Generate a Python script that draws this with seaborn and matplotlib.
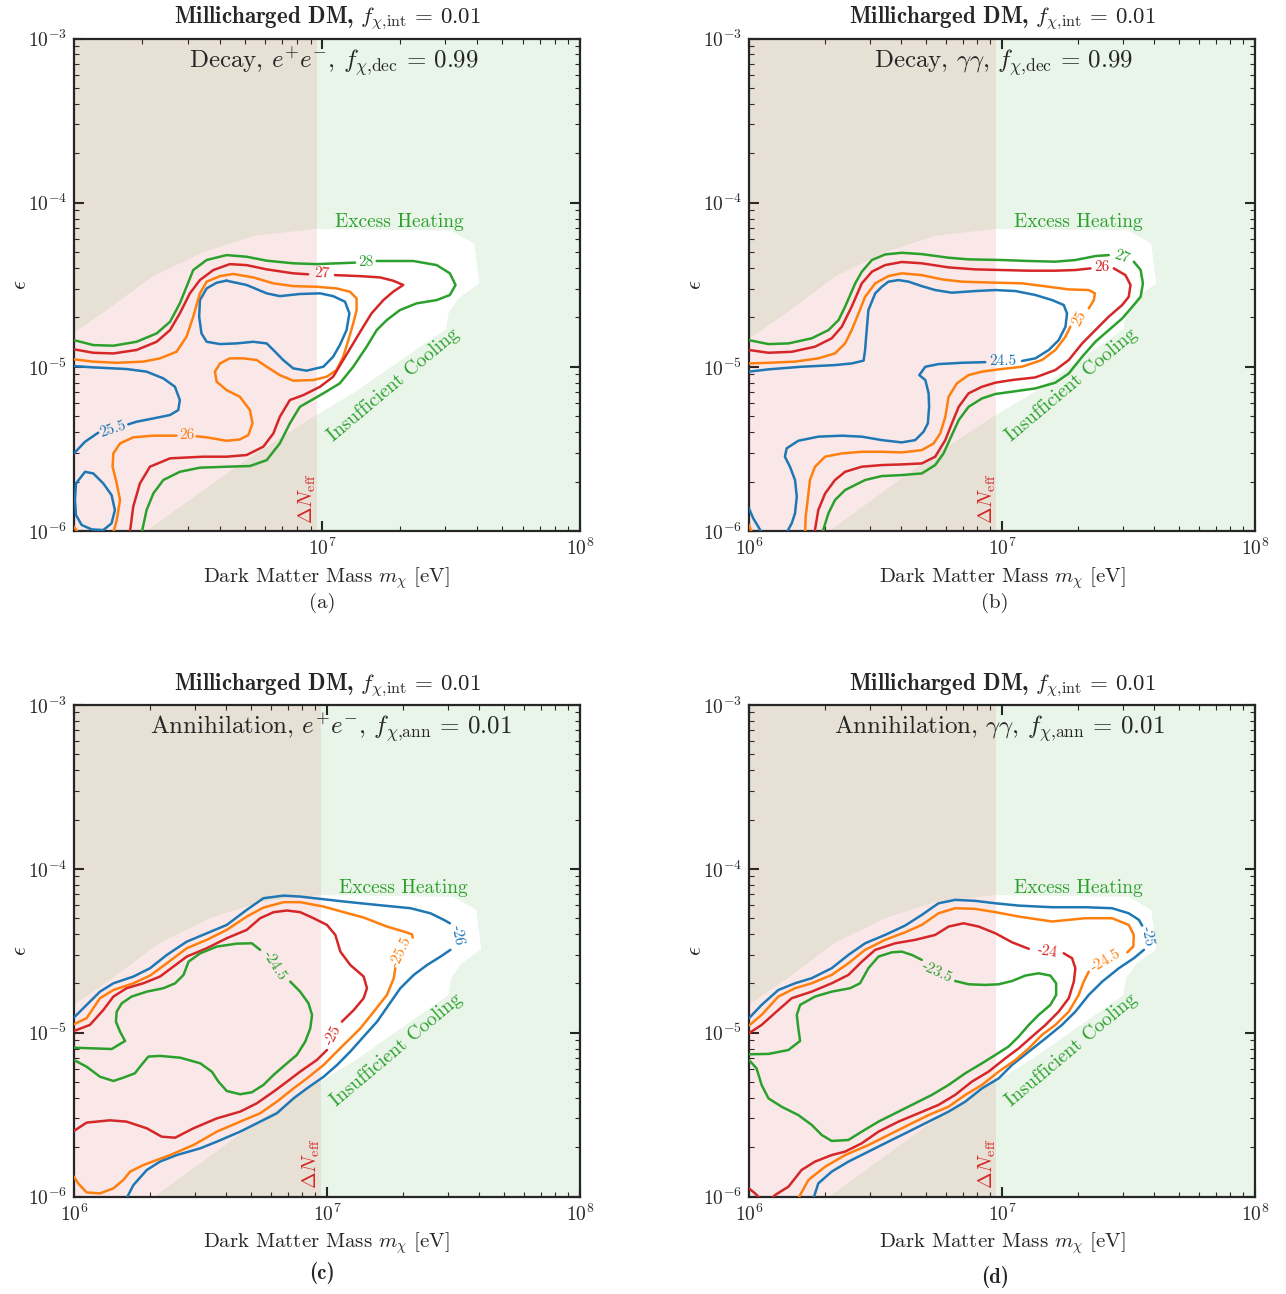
import numpy as np
import pandas as pd
import seaborn as sns
import matplotlib.pyplot as plt

# all curve points are (log10 m_chi [eV], log10 epsilon)
# allowed region (white / pink), same for all four panels
region = [(5.99, -4.84), (6.14, -4.68), (6.34, -4.45), (6.54, -4.30), (6.74, -4.20),
          (6.97, -4.16), (7.50, -4.17), (7.59, -4.25), (7.61, -4.49), (7.53, -4.58),
          (7.49, -4.67), (7.48, -4.77), (7.12, -5.16), (6.97, -5.30), (6.70, -5.57),
          (6.30, -6.02), (5.99, -6.02)]
neff_mass = 9.5e6

# (a) decay e+e-
a_levels = ['25.5', '26', '27', '28']
a_255 = [
    [(6.036, -4.995), (6.111, -5.003), (6.240, -5.013), (6.318, -5.029), (6.383, -5.070), (6.428, -5.121),
     (6.447, -5.202), (6.441, -5.263), (6.409, -5.293), (6.344, -5.314), (6.279, -5.334), (6.247, -5.350)],
    [(6.130, -5.401), (6.079, -5.456), (6.036, -5.527)],
    [(6.628, -4.475), (6.706, -4.501), (6.784, -4.552), (6.835, -4.569), (6.913, -4.556), (6.991, -4.552),
     (7.042, -4.569), (7.088, -4.603), (7.105, -4.674), (7.094, -4.776), (7.068, -4.867), (7.042, -4.938),
     (7.004, -4.999), (6.939, -5.023), (6.887, -5.009), (6.848, -4.958), (6.810, -4.897), (6.784, -4.857),
     (6.732, -4.847), (6.667, -4.857), (6.603, -4.861), (6.551, -4.847), (6.531, -4.796), (6.522, -4.694),
     (6.525, -4.593), (6.551, -4.522), (6.590, -4.487), (6.628, -4.475)],
    [(6.044, -5.710), (6.079, -5.639), (6.111, -5.649), (6.150, -5.710), (6.182, -5.781), (6.195, -5.872),
     (6.182, -5.953), (6.150, -5.994), (6.105, -5.990), (6.066, -5.963), (6.044, -5.903), (6.040, -5.811),
     (6.044, -5.710)],
]
a_26 = [
    [(6.036, -4.954), (6.111, -4.968), (6.202, -4.975), (6.305, -4.968), (6.370, -4.948), (6.434, -4.908),
     (6.473, -4.816), (6.499, -4.694), (6.525, -4.552), (6.551, -4.481), (6.603, -4.447), (6.654, -4.434),
     (6.732, -4.455), (6.810, -4.491), (6.887, -4.508), (6.978, -4.512), (7.055, -4.522), (7.107, -4.542),
     (7.133, -4.583), (7.133, -4.654), (7.120, -4.735), (7.101, -4.837), (7.081, -4.938), (7.055, -5.019),
     (7.017, -5.060), (6.965, -5.080), (6.887, -5.084), (6.835, -5.050), (6.784, -4.999), (6.745, -4.958),
     (6.693, -4.948), (6.641, -4.948), (6.603, -4.979), (6.583, -5.029), (6.590, -5.090), (6.628, -5.141),
     (6.680, -5.182), (6.719, -5.263), (6.729, -5.344), (6.713, -5.415), (6.680, -5.442), (6.628, -5.450),
     (6.551, -5.429), (6.512, -5.423)],
    [(6.434, -5.419), (6.344, -5.419), (6.266, -5.429), (6.215, -5.466), (6.189, -5.527), (6.186, -5.608),
     (6.202, -5.710), (6.215, -5.811), (6.202, -5.933), (6.189, -6.01)],
    [(6.036, -5.974), (6.053, -6.01)],
]
a_27 = [
    [(6.036, -4.893), (6.111, -4.914), (6.189, -4.918), (6.279, -4.897), (6.357, -4.847), (6.409, -4.776),
     (6.447, -4.674), (6.486, -4.552), (6.525, -4.471), (6.577, -4.410), (6.641, -4.374), (6.706, -4.380),
     (6.784, -4.406), (6.887, -4.430), (6.945, -4.436)],
    [(7.049, -4.441), (7.146, -4.447), (7.224, -4.455), (7.275, -4.475), (7.314, -4.501), (7.275, -4.542),
     (7.237, -4.593), (7.191, -4.674), (7.159, -4.755), (7.120, -4.857), (7.081, -4.958), (7.042, -5.060),
     (6.991, -5.121), (6.926, -5.172), (6.874, -5.202), (6.835, -5.304), (6.810, -5.405), (6.771, -5.486),
     (6.706, -5.537), (6.628, -5.547), (6.538, -5.547), (6.409, -5.557), (6.331, -5.608), (6.292, -5.710),
     (6.266, -5.852), (6.253, -6.01)],
]
a_28 = [
    [(6.036, -4.837), (6.111, -4.867), (6.189, -4.871), (6.279, -4.847), (6.357, -4.796), (6.409, -4.725),
     (6.447, -4.613), (6.473, -4.512), (6.499, -4.410), (6.551, -4.349), (6.628, -4.319), (6.706, -4.329),
     (6.784, -4.353), (6.887, -4.369), (6.978, -4.374), (7.127, -4.365)],
    [(7.211, -4.355), (7.353, -4.355), (7.444, -4.380), (7.495, -4.430), (7.517, -4.501), (7.495, -4.562),
     (7.444, -4.593), (7.366, -4.613), (7.301, -4.654), (7.250, -4.715), (7.211, -4.776), (7.172, -4.877),
     (7.120, -4.999), (7.068, -5.100), (7.004, -5.161), (6.913, -5.243), (6.874, -5.344), (6.835, -5.466),
     (6.784, -5.568), (6.719, -5.604), (6.628, -5.608), (6.525, -5.614), (6.447, -5.639), (6.383, -5.689),
     (6.344, -5.771), (6.318, -5.872), (6.299, -6.01)],
]
a_labels = [('25.5', 6.189, -5.381, 18), ('26', 6.473, -5.417, 0),
            ('27', 6.997, -4.432, -2), ('28', 7.170, -4.359, 0)]

# (b) decay gamma gamma
b_levels = ['24.5', '25', '26', '27']
b_245 = [
    [(6.000, -5.029), (6.077, -5.015), (6.208, -4.999), (6.340, -4.989), (6.406, -4.979), (6.453, -4.962),
     (6.459, -4.897), (6.462, -4.837), (6.472, -4.654), (6.499, -4.552), (6.525, -4.512), (6.551, -4.481),
     (6.591, -4.471), (6.631, -4.481), (6.683, -4.508), (6.736, -4.532), (6.802, -4.548), (6.894, -4.538),
     (6.974, -4.532), (7.053, -4.538), (7.132, -4.562), (7.198, -4.593), (7.244, -4.623), (7.257, -4.674),
     (7.251, -4.755), (7.224, -4.837), (7.185, -4.897), (7.132, -4.948), (7.079, -4.964)],
    [(6.934, -4.971), (6.842, -4.975), (6.749, -4.983), (6.697, -4.999), (6.683, -5.029), (6.673, -5.050),
     (6.697, -5.080), (6.710, -5.161), (6.712, -5.243), (6.707, -5.344), (6.690, -5.395), (6.657, -5.446),
     (6.604, -5.460), (6.525, -5.446), (6.446, -5.425), (6.367, -5.419), (6.274, -5.425), (6.195, -5.450),
     (6.149, -5.496), (6.142, -5.547), (6.162, -5.608), (6.182, -5.689), (6.189, -5.791), (6.182, -5.892),
     (6.169, -5.953), (6.149, -6.01)],
    [(6.000, -5.862), (6.017, -5.923), (6.037, -5.974), (6.050, -6.01)],
]
b_25 = [
    [(6.000, -4.979), (6.077, -4.975), (6.182, -4.968), (6.274, -4.948), (6.340, -4.918), (6.380, -4.857),
     (6.406, -4.776), (6.433, -4.674), (6.459, -4.573), (6.499, -4.491), (6.551, -4.447), (6.604, -4.430),
     (6.683, -4.441), (6.763, -4.467), (6.842, -4.481), (6.974, -4.487), (7.079, -4.491), (7.185, -4.512),
     (7.264, -4.528), (7.343, -4.532), (7.367, -4.552), (7.363, -4.593), (7.343, -4.644)],
    [(7.270, -4.755), (7.251, -4.816), (7.211, -4.897), (7.158, -4.958), (7.079, -4.999), (6.987, -5.015),
     (6.921, -5.029), (6.868, -5.050), (6.822, -5.100), (6.789, -5.182), (6.776, -5.304), (6.756, -5.405),
     (6.730, -5.466), (6.683, -5.507), (6.604, -5.521), (6.525, -5.517), (6.446, -5.517), (6.367, -5.527),
     (6.301, -5.547), (6.261, -5.608), (6.241, -5.689), (6.232, -5.811), (6.224, -5.913), (6.222, -6.01)],
    [(6.000, -5.963), (6.011, -6.01)],
]
b_26 = [
    [(6.000, -4.897), (6.077, -4.914), (6.169, -4.908), (6.261, -4.877), (6.327, -4.826), (6.367, -4.755),
     (6.406, -4.633), (6.446, -4.491), (6.486, -4.420), (6.538, -4.380), (6.604, -4.361), (6.683, -4.369),
     (6.789, -4.394), (6.894, -4.406), (7.000, -4.410), (7.106, -4.414), (7.211, -4.414), (7.290, -4.410),
     (7.350, -4.400)],
    [(7.442, -4.400), (7.488, -4.441), (7.508, -4.501), (7.501, -4.573), (7.475, -4.623), (7.422, -4.694),
     (7.369, -4.776), (7.317, -4.857), (7.264, -4.958), (7.211, -5.019), (7.132, -5.064), (7.040, -5.080),
     (6.974, -5.096), (6.921, -5.121), (6.868, -5.161), (6.829, -5.243), (6.802, -5.344), (6.776, -5.446),
     (6.736, -5.547), (6.683, -5.588), (6.604, -5.594), (6.525, -5.598), (6.446, -5.608), (6.380, -5.639),
     (6.340, -5.689), (6.301, -5.771), (6.274, -5.872), (6.259, -6.01)],
]
b_27 = [
    [(6.000, -4.837), (6.077, -4.861), (6.156, -4.857), (6.248, -4.826), (6.314, -4.776), (6.354, -4.715),
     (6.380, -4.633), (6.420, -4.491), (6.446, -4.420), (6.486, -4.349), (6.538, -4.315), (6.604, -4.305),
     (6.683, -4.313), (6.789, -4.335), (6.868, -4.345), (7.000, -4.349), (7.106, -4.355), (7.211, -4.359),
     (7.290, -4.349), (7.369, -4.325), (7.422, -4.319)],
    [(7.521, -4.359), (7.548, -4.410), (7.557, -4.491), (7.548, -4.573), (7.521, -4.623), (7.475, -4.705),
     (7.422, -4.776), (7.369, -4.847), (7.317, -4.938), (7.264, -5.040), (7.211, -5.096), (7.132, -5.131),
     (7.040, -5.151), (6.974, -5.165), (6.921, -5.192), (6.868, -5.243), (6.829, -5.324), (6.802, -5.415),
     (6.769, -5.527), (6.736, -5.598), (6.683, -5.649), (6.604, -5.659), (6.525, -5.665), (6.459, -5.689),
     (6.380, -5.750), (6.340, -5.811), (6.314, -5.892), (6.290, -6.01)],
]
b_labels = [('24.5', 7.003, -4.968, 0), ('25', 7.306, -4.703, 62),
            ('26', 7.396, -4.392, 0), ('27', 7.475, -4.329, -20)]

# (c) annihilation e+e-
c_levels = ['-26', '-25.5', '-25', '-24.5']
c_m26 = [
    [(6.000, -4.907), (6.050, -4.830), (6.103, -4.749), (6.156, -4.698), (6.235, -4.657), (6.301, -4.606),
     (6.367, -4.525), (6.446, -4.444), (6.525, -4.393), (6.604, -4.342), (6.683, -4.250), (6.749, -4.179),
     (6.829, -4.163), (6.894, -4.169), (6.974, -4.183), (7.066, -4.199), (7.198, -4.220), (7.330, -4.240),
     (7.409, -4.271), (7.462, -4.311), (7.486, -4.332)],
    [(7.488, -4.494), (7.449, -4.535), (7.396, -4.586), (7.343, -4.647), (7.290, -4.728), (7.244, -4.830),
     (7.198, -4.932), (7.145, -5.023), (7.092, -5.115), (7.040, -5.196), (6.987, -5.268), (6.921, -5.339),
     (6.868, -5.400), (6.802, -5.491), (6.736, -5.542), (6.657, -5.603), (6.565, -5.664), (6.499, -5.705),
     (6.406, -5.746), (6.340, -5.786), (6.288, -5.837), (6.235, -5.929), (6.208, -6.01)],
]
c_m255 = [
    [(6.000, -4.948), (6.050, -4.911), (6.103, -4.789), (6.156, -4.739), (6.235, -4.698), (6.301, -4.651),
     (6.367, -4.576), (6.446, -4.484), (6.525, -4.433), (6.604, -4.372), (6.683, -4.291), (6.749, -4.236),
     (6.829, -4.203), (6.894, -4.203), (6.987, -4.230), (7.066, -4.264), (7.145, -4.297), (7.237, -4.352),
     (7.303, -4.382), (7.336, -4.399), (7.339, -4.419)],
    [(7.270, -4.606), (7.264, -4.667), (7.237, -4.769), (7.185, -4.871), (7.132, -4.973), (7.079, -5.054),
     (7.026, -5.135), (6.987, -5.196), (6.921, -5.278), (6.868, -5.339), (6.802, -5.420), (6.736, -5.491),
     (6.657, -5.542), (6.565, -5.603), (6.472, -5.685), (6.380, -5.746), (6.274, -5.807), (6.222, -5.847),
     (6.195, -5.898), (6.156, -5.949), (6.103, -5.980), (6.050, -5.974), (6.017, -5.919), (6.000, -5.878)],
]
c_m25 = [
    [(6.000, -4.989), (6.063, -4.952), (6.116, -4.861), (6.156, -4.779), (6.208, -4.728), (6.274, -4.698),
     (6.340, -4.657), (6.393, -4.596), (6.446, -4.535), (6.525, -4.484), (6.604, -4.423), (6.683, -4.372),
     (6.736, -4.301), (6.789, -4.264), (6.842, -4.254), (6.894, -4.264), (6.947, -4.301), (7.000, -4.342),
     (7.033, -4.403), (7.053, -4.505), (7.092, -4.586), (7.145, -4.657), (7.158, -4.728), (7.145, -4.789),
     (7.106, -4.861), (7.059, -4.932)],
    [(7.000, -5.105), (6.960, -5.166), (6.894, -5.237), (6.842, -5.298), (6.789, -5.359), (6.723, -5.430),
     (6.657, -5.481), (6.565, -5.522), (6.472, -5.583), (6.400, -5.640), (6.347, -5.634), (6.288, -5.583),
     (6.208, -5.542), (6.142, -5.534), (6.050, -5.548), (6.000, -5.599)],
]
c_m245 = [
    [(6.000, -5.091), (6.149, -5.099), (6.202, -5.050), (6.182, -4.993), (6.166, -4.932), (6.169, -4.871),
     (6.189, -4.820), (6.228, -4.779), (6.288, -4.749), (6.354, -4.728), (6.400, -4.698), (6.433, -4.647),
     (6.453, -4.566), (6.499, -4.515), (6.565, -4.474), (6.644, -4.456), (6.703, -4.454), (6.736, -4.494)],
    [(6.855, -4.688), (6.894, -4.749), (6.927, -4.820), (6.941, -4.891), (6.934, -4.973), (6.914, -5.054),
     (6.881, -5.135), (6.842, -5.186), (6.789, -5.257), (6.749, -5.318), (6.703, -5.363), (6.657, -5.375),
     (6.604, -5.355), (6.571, -5.298), (6.545, -5.237), (6.499, -5.186), (6.420, -5.152), (6.340, -5.141),
     (6.294, -5.145), (6.261, -5.207), (6.241, -5.247), (6.195, -5.274), (6.156, -5.294), (6.103, -5.268),
     (6.050, -5.207), (6.000, -5.166)],
]
c_labels = [('-26', 7.517, -4.403, -80), ('-25.5', 7.293, -4.509, 65),
            ('-25', 7.026, -5.015, 62), ('-24.5', 6.792, -4.593, -58)]

# (d) annihilation gamma gamma
d_levels = ['-25', '-24.5', '-24', '-23.5']
d_m25 = [
    [(6.000, -4.911), (6.050, -4.830), (6.116, -4.739), (6.182, -4.698), (6.248, -4.667), (6.327, -4.606),
     (6.393, -4.525), (6.459, -4.454), (6.538, -4.403), (6.617, -4.346), (6.683, -4.281), (6.749, -4.210),
     (6.815, -4.189), (6.894, -4.195), (6.974, -4.210), (7.066, -4.224), (7.198, -4.234), (7.330, -4.234),
     (7.435, -4.240), (7.501, -4.271), (7.541, -4.311), (7.554, -4.346)],
    [(7.561, -4.494), (7.521, -4.545), (7.462, -4.606), (7.396, -4.688), (7.343, -4.769), (7.290, -4.871),
     (7.237, -4.952), (7.172, -5.034), (7.106, -5.115), (7.040, -5.196), (6.987, -5.278), (6.921, -5.339),
     (6.855, -5.420), (6.789, -5.481), (6.710, -5.542), (6.631, -5.603), (6.551, -5.664), (6.472, -5.725),
     (6.393, -5.786), (6.327, -5.847), (6.274, -5.919), (6.255, -6.01)],
]
d_m245 = [
    [(6.000, -4.956), (6.050, -4.891), (6.116, -4.779), (6.182, -4.728), (6.248, -4.698), (6.327, -4.647),
     (6.393, -4.576), (6.459, -4.494), (6.538, -4.433), (6.617, -4.387), (6.683, -4.342), (6.749, -4.271),
     (6.815, -4.240), (6.894, -4.244), (6.974, -4.264), (7.066, -4.291), (7.198, -4.321), (7.330, -4.301),
     (7.435, -4.301), (7.501, -4.342), (7.521, -4.403), (7.519, -4.474), (7.495, -4.509)],
    [(7.343, -4.627), (7.323, -4.688), (7.303, -4.769), (7.264, -4.871), (7.211, -4.952), (7.158, -5.013),
     (7.106, -5.095), (7.053, -5.166), (6.987, -5.237), (6.921, -5.318), (6.855, -5.379), (6.789, -5.451),
     (6.710, -5.502), (6.631, -5.562), (6.551, -5.624), (6.472, -5.685), (6.380, -5.746), (6.301, -5.817),
     (6.235, -5.898), (6.195, -6.01)],
]
d_m24 = [
    [(6.000, -5.003), (6.050, -4.952), (6.116, -4.861), (6.169, -4.789), (6.248, -4.749), (6.327, -4.698),
     (6.393, -4.647), (6.446, -4.566), (6.499, -4.494), (6.578, -4.454), (6.657, -4.433), (6.736, -4.403),
     (6.789, -4.352), (6.848, -4.332), (6.908, -4.352), (6.974, -4.393), (7.040, -4.448), (7.106, -4.488)],
    [(7.244, -4.515), (7.277, -4.545), (7.290, -4.606), (7.284, -4.688), (7.264, -4.789), (7.224, -4.871),
     (7.172, -4.952), (7.119, -5.023), (7.066, -5.095), (7.013, -5.156), (6.947, -5.237), (6.881, -5.298),
     (6.815, -5.379), (6.749, -5.440), (6.670, -5.491), (6.591, -5.542), (6.512, -5.603), (6.446, -5.674),
     (6.380, -5.725), (6.327, -5.746), (6.261, -5.786), (6.208, -5.837), (6.156, -5.939), (6.103, -5.990),
     (6.090, -6.01)],
    [(6.000, -5.949), (6.024, -5.980), (6.044, -6.01)],
]
d_m235 = [
    [(6.000, -5.131), (6.077, -5.129), (6.156, -5.105), (6.202, -5.050), (6.195, -4.973), (6.189, -4.891),
     (6.202, -4.830), (6.261, -4.779), (6.327, -4.749), (6.400, -4.728), (6.439, -4.698), (6.472, -4.606),
     (6.512, -4.535), (6.565, -4.509), (6.604, -4.505), (6.644, -4.525), (6.683, -4.555)],
    [(6.815, -4.684), (6.868, -4.704), (6.934, -4.708), (6.987, -4.704), (7.040, -4.684), (7.092, -4.651),
     (7.145, -4.637), (7.191, -4.651), (7.214, -4.698), (7.214, -4.769), (7.191, -4.830), (7.145, -4.891),
     (7.106, -4.952), (7.066, -5.023), (7.026, -5.084), (6.974, -5.135), (6.921, -5.186), (6.855, -5.247),
     (6.789, -5.318), (6.723, -5.379), (6.657, -5.430), (6.591, -5.481), (6.512, -5.542), (6.446, -5.603),
     (6.393, -5.654), (6.327, -5.660), (6.288, -5.624), (6.248, -5.562), (6.195, -5.502), (6.129, -5.451),
     (6.077, -5.400), (6.050, -5.318), (6.030, -5.217), (6.000, -5.166)],
]
d_labels = [('-25', 7.574, -4.413, -80), ('-24.5', 7.412, -4.562, 30),
            ('-24', 7.178, -4.507, -8), ('-23.5', 6.745, -4.629, -25)]

headers = [r'Decay, $e^{+}e^{-}$, $f_{\chi{,}\mathrm{dec}}\,=\,0.99$',
           r'Decay, $\gamma\gamma$, $f_{\chi{,}\mathrm{dec}}\,=\,0.99$',
           r'Annihilation, $e^{+}e^{-}$, $f_{\chi{,}\mathrm{ann}}\,=\,0.01$',
           r'Annihilation, $\gamma\gamma$, $f_{\chi{,}\mathrm{ann}}\,=\,0.01$']
title = r'Millicharged DM, $f_{\chi{,}\mathrm{int}}\,=\,0.01$'
tags = ['(a)', '(b)', '(c)', '(d)']
x_lower = [10 ** 6.036, 1e6, 1e6, 1e6]

sns.set_style('ticks')
plt.rcParams['font.family'] = 'serif'
plt.rcParams['font.serif'] = ['cmr10']
plt.rcParams['mathtext.fontset'] = 'cm'
plt.rcParams['axes.formatter.use_mathtext'] = True
plt.rcParams['axes.unicode_minus'] = False

BLUE, ORANGE, GREEN, RED = '#1f77b4', '#ff7f0e', '#2ca02c', '#d62728'

panels = [(a_levels, [a_255, a_26, a_27, a_28], a_labels),
          (b_levels, [b_245, b_25, b_26, b_27], b_labels),
          (c_levels, [c_m26, c_m255, c_m25, c_m245], c_labels),
          (d_levels, [d_m25, d_m245, d_m24, d_m235], d_labels)]

boxes = [[0.0575, 0.5896, 0.3935, 0.3806], [0.5824, 0.5896, 0.3935, 0.3806],
         [0.0575, 0.0752, 0.3935, 0.3800], [0.5824, 0.0752, 0.3935, 0.3800]]
header_x = [0.514, 0.502, 0.508, 0.494]
tag_pos = [(0.2504, 0.534), (0.7737, 0.534), (0.2504, 0.016), (0.7737, 0.013)]

fig = plt.figure(figsize=(12.86, 12.94), dpi=100)

for i, (levels, lines, labels) in enumerate(panels):
    ax = fig.add_axes(boxes[i])
    ax.set_xscale('log')
    ax.set_yscale('log')

    # green: excess heating / insufficient cooling, white: allowed, red: Delta N_eff
    ax.axvspan(1e5, 1e9, color=GREEN, alpha=0.1, lw=0, zorder=0)
    ax.fill([10 ** p[0] for p in region], [10 ** p[1] for p in region],
            color='white', lw=0, zorder=0.5)
    ax.axvspan(1e5, neff_mass, color=RED, alpha=0.1, lw=0, zorder=0.8)

    rows = []
    for level, pieces in zip(levels, lines):
        for k, piece in enumerate(pieces):
            for lm, le in piece:
                rows.append((level, f'{level}_{k}', 10 ** lm, 10 ** le))
    df = pd.DataFrame(rows, columns=['level', 'piece', 'mass', 'eps'])
    sns.lineplot(data=df, x='mass', y='eps', hue='level', hue_order=levels,
                 palette=[BLUE, ORANGE, RED, GREEN], units='piece', estimator=None,
                 sort=False, legend=False, lw=1.8, ax=ax, zorder=3)

    for (txt, lm, le, rot), col in zip(labels, [BLUE, ORANGE, RED, GREEN]):
        ax.text(10 ** lm, 10 ** le, txt, color=col, fontsize=11, rotation=rot,
                ha='center', va='center', rotation_mode='anchor', zorder=4)

    ax.text(10 ** 7.30, 10 ** -4.115, 'Excess Heating', color=GREEN, fontsize=14,
            ha='center', va='center', zorder=4)
    ax.text(10 ** 7.275, 10 ** -5.108, 'Insufficient Cooling', color=GREEN, fontsize=14,
            rotation=40, ha='center', va='center', rotation_mode='anchor', zorder=4)
    ax.text(10 ** 6.94, 10 ** -5.80, r'$\Delta N_{\mathrm{eff}}$', color=RED, fontsize=14.5,
            rotation=90, ha='center', va='center', rotation_mode='anchor', zorder=4)
    ax.text(header_x[i], 0.952, headers[i], transform=ax.transAxes, fontsize=18,
            ha='center', va='center', zorder=4)

    ax.set_xlim(x_lower[i], 1e8)
    ax.set_ylim(1e-6, 1e-3)
    ax.set_xticks([1e6, 1e7, 1e8])
    ax.set_yticks([1e-6, 1e-5, 1e-4, 1e-3])
    ax.set_xlim(x_lower[i], 1e8)
    ax.tick_params(which='both', direction='in', top=True, right=True)
    ax.tick_params(which='major', length=7, width=1.5, labelsize=14, pad=5)
    ax.tick_params(which='minor', length=3.5, width=0.8)
    for sp in ax.spines.values():
        sp.set_linewidth(1.6)

    ax.set_xlabel(r'Dark Matter Mass $m_\chi$ [eV]', fontsize=15, labelpad=4)
    ax.set_ylabel(r'$\epsilon$', fontsize=16, labelpad=-2)
    ax.set_title(title, fontfamily='cmb10', fontsize=16.5, pad=11)
    fig.text(tag_pos[i][0], tag_pos[i][1], tags[i], fontsize=15, ha='center', va='center',
             fontfamily='cmb10' if i >= 2 else 'cmr10')

fig.savefig('out.png', dpi=100)
